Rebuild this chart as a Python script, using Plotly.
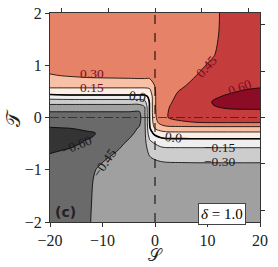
import plotly.graph_objects as go

# ---------------- data ----------------
S_values = [-20, -16, -13, -11, -8, -5, -3, -2, -1, 0, 1, 2, 3, 5, 8, 11, 14, 17, 20]
T_values = [2.0, 1.6, 1.2, 1.0, 0.8, 0.6, 0.5, 0.4, 0.3, 0.2, 0.1, 0.0,
            -0.1, -0.2, -0.3, -0.4, -0.5, -0.6, -0.8, -1.0, -1.2, -1.6, -2.0]

z_T_p2_0 = [0.38, 0.38, 0.38, 0.385, 0.39, 0.39, 0.395, 0.40, 0.40, 0.405, 0.41, 0.415, 0.42, 0.425, 0.435, 0.444, 0.458, 0.47, 0.48]
z_T_p1_6 = [0.37, 0.37, 0.37, 0.375, 0.38, 0.385, 0.39, 0.395, 0.40, 0.405, 0.41, 0.415, 0.42, 0.425, 0.435, 0.444, 0.46, 0.475, 0.485]
z_T_p1_2 = [0.36, 0.36, 0.365, 0.365, 0.37, 0.375, 0.38, 0.385, 0.39, 0.40, 0.405, 0.41, 0.415, 0.425, 0.437, 0.447, 0.47, 0.49, 0.50]
z_T_p1_0 = [0.35, 0.355, 0.36, 0.36, 0.365, 0.37, 0.37, 0.375, 0.38, 0.39, 0.40, 0.405, 0.41, 0.425, 0.44, 0.458, 0.48, 0.50, 0.51]
z_T_p0_8 = [0.29, 0.31, 0.325, 0.33, 0.335, 0.34, 0.345, 0.345, 0.345, 0.35, 0.39, 0.40, 0.40, 0.43, 0.451, 0.47, 0.50, 0.52, 0.53]
z_T_p0_6 = [0.18, 0.18, 0.18, 0.18, 0.18, 0.18, 0.18, 0.18, 0.19, 0.305, 0.39, 0.41, 0.42, 0.44, 0.48, 0.51, 0.55, 0.575, 0.59]
z_T_p0_5 = [0.09, 0.09, 0.09, 0.09, 0.09, 0.09, 0.09, 0.09, 0.11, 0.29, 0.395, 0.415, 0.43, 0.458, 0.50, 0.55, 0.585, 0.61, 0.62]
z_T_p0_4 = [-0.06, -0.04, -0.04, -0.04, -0.04, -0.04, -0.04, -0.04, 0.03, 0.285, 0.40, 0.42, 0.437, 0.47, 0.515, 0.585, 0.615, 0.635, 0.64]
z_T_p0_3 = [-0.24, -0.24, -0.24, -0.24, -0.24, -0.24, -0.24, -0.20, 0.02, 0.285, 0.40, 0.43, 0.445, 0.48, 0.525, 0.605, 0.63, 0.645, 0.65]
z_T_p0_2 = [-0.36, -0.36, -0.36, -0.36, -0.36, -0.36, -0.36, -0.31, 0.02, 0.285, 0.40, 0.435, 0.455, 0.49, 0.53, 0.595, 0.61, 0.63, 0.63]
z_T_p0_1 = [-0.46, -0.46, -0.46, -0.46, -0.46, -0.46, -0.47, -0.33, 0.02, 0.28, 0.40, 0.44, 0.46, 0.49, 0.53, 0.57, 0.58, 0.56, 0.56]
z_T_0_0 = [-0.52, -0.52, -0.51, -0.505, -0.50, -0.49, -0.50, -0.34, 0.015, 0.27, 0.39, 0.44, 0.46, 0.485, 0.52, 0.54, 0.545, 0.548, 0.53]
z_T_m0_1 = [-0.565, -0.56, -0.55, -0.54, -0.52, -0.50, -0.48, -0.34, 0.01, 0.24, 0.34, 0.40, 0.42, 0.43, 0.445, 0.448, 0.448, 0.448, 0.448]
z_T_m0_2 = [-0.605, -0.598, -0.585, -0.575, -0.54, -0.505, -0.44, -0.345, -0.01, 0.17, 0.21, 0.24, 0.25, 0.25, 0.25, 0.25, 0.25, 0.25, 0.25]
z_T_m0_3 = [-0.635, -0.625, -0.61, -0.598, -0.55, -0.49, -0.41, -0.345, -0.06, 0.04, 0.10, 0.115, 0.118, 0.12, 0.12, 0.12, 0.12, 0.12, 0.12]
z_T_m0_4 = [-0.655, -0.64, -0.605, -0.59, -0.545, -0.455, -0.39, -0.345, -0.13, -0.06, -0.02, 0.002, 0.003, 0.004, 0.005, 0.005, 0.005, 0.005, 0.005]
z_T_m0_5 = [-0.65, -0.625, -0.58, -0.565, -0.52, -0.42, -0.38, -0.345, -0.20, -0.148, -0.11, -0.09, -0.085, -0.083, -0.08, -0.08, -0.08, -0.08, -0.08]
z_T_m0_6 = [-0.625, -0.595, -0.56, -0.535, -0.485, -0.40, -0.375, -0.35, -0.25, -0.20, -0.18, -0.17, -0.17, -0.17, -0.17, -0.17, -0.17, -0.17, -0.17]
z_T_m0_8 = [-0.57, -0.555, -0.53, -0.49, -0.42, -0.385, -0.375, -0.36, -0.32, -0.298, -0.29, -0.285, -0.283, -0.282, -0.28, -0.28, -0.28, -0.28, -0.28]
z_T_m1_0 = [-0.54, -0.53, -0.51, -0.44, -0.40, -0.38, -0.38, -0.375, -0.36, -0.34, -0.34, -0.34, -0.34, -0.34, -0.34, -0.34, -0.34, -0.34, -0.34]
z_T_m1_2 = [-0.52, -0.515, -0.495, -0.42, -0.395, -0.38, -0.385, -0.385, -0.38, -0.37, -0.37, -0.37, -0.37, -0.37, -0.37, -0.37, -0.37, -0.37, -0.37]
z_T_m1_6 = [-0.51, -0.505, -0.485, -0.41, -0.39, -0.385, -0.39, -0.39, -0.39, -0.385, -0.385, -0.385, -0.385, -0.385, -0.385, -0.385, -0.385, -0.385, -0.385]
z_T_m2_0 = [-0.50, -0.50, -0.48, -0.40, -0.39, -0.39, -0.39, -0.39, -0.39, -0.39, -0.39, -0.39, -0.39, -0.39, -0.39, -0.39, -0.39, -0.39, -0.39]

level_start = -0.60
level_end = 0.60
level_step = 0.15

x_ticks = [-20, -10, 0, 10, 20]
y_ticks = [-2, -1, 0, 1, 2]

# contour labels: text, S, T, angle, sign
contour_labels = [
    ("0.30", -12.0, 0.84, 0, "pos"),
    ("0.15", -12.0, 0.565, 0, "pos"),
    ("0.0", -3.4, 0.41, 8, "neg"),
    ("0.0", 3.6, -0.39, 6, "neg"),
    ("\u22120.15", 12.2, -0.57, 0, "neg"),
    ("\u22120.30", 12.2, -0.84, 0, "neg"),
    ("0.45", 9.9, 0.97, -48, "pos"),
    ("0.60", 16.2, 0.57, -20, "pos"),
    ("\u22120.60", -15.0, -0.54, -22, "neg"),
    ("\u22120.45", -9.7, -0.88, -55, "neg"),
]

# ---------------- figure ----------------
z_rows = [z_T_p2_0, z_T_p1_6, z_T_p1_2, z_T_p1_0, z_T_p0_8, z_T_p0_6, z_T_p0_5,
          z_T_p0_4, z_T_p0_3, z_T_p0_2, z_T_p0_1, z_T_0_0, z_T_m0_1, z_T_m0_2,
          z_T_m0_3, z_T_m0_4, z_T_m0_5, z_T_m0_6, z_T_m0_8, z_T_m1_0, z_T_m1_2,
          z_T_m1_6, z_T_m2_0]
y_asc = T_values[::-1]
z_asc = z_rows[::-1]

band_colors = ['#343434', '#6a6a6a', '#a0a0a0', '#cdcdcd', '#efefef',
               '#feede3', '#f8c0a4', '#e58268', '#c43c3c', '#8c0c25']
colorscale = [[i / (len(band_colors) - 1), c] for i, c in enumerate(band_colors)]

fig = go.Figure()
fig.add_trace(go.Contour(
    x=S_values, y=y_asc, z=z_asc,
    colorscale=colorscale, showscale=False,
    contours=dict(start=level_start, end=level_end, size=level_step,
                  coloring='fill', showlines=True),
    line=dict(color='black', width=0.8, smoothing=1.0),
    hoverinfo='skip',
))
# thicker zero contour
fig.add_trace(go.Contour(
    x=S_values, y=y_asc, z=z_asc, showscale=False,
    contours=dict(start=0, end=0, size=1, coloring='none', showlines=True),
    line=dict(color='black', width=1.6, smoothing=1.0),
    hoverinfo='skip',
))
# empty trace to hold the twin (top/right) axes
fig.add_trace(go.Scatter(x=[None], y=[None], xaxis='x2', yaxis='y2',
                         showlegend=False, hoverinfo='skip'))

fig.add_vline(x=0, line=dict(color='black', dash='dash', width=1))
fig.add_hline(y=0, line=dict(color='rgba(40,40,40,0.8)', dash='dashdot', width=1))

serif = "Liberation Serif"
for text, sx, ty, ang, sign in contour_labels:
    fig.add_annotation(x=sx, y=ty, xref='x', yref='y', text=text, showarrow=False,
                       textangle=ang, borderpad=0,
                       font=dict(family=serif, size=13.5,
                                 color='#7d0a24' if sign == 'pos' else '#1a1a1a'))

fig.add_annotation(x=-17, y=-1.8, xref='x', yref='y', text='<b>(c)</b>',
                   showarrow=False, font=dict(family='DejaVu Sans', size=14, color='#222'))
fig.add_annotation(x=12.8, y=-1.84, xref='x', yref='y', text='<i>δ</i> = 1.0',
                   showarrow=False, bgcolor='white', bordercolor='#444', borderwidth=1,
                   borderpad=2, font=dict(family=serif, size=15, color='black'))

# axis titles
fig.add_annotation(x=0.5, y=-0.212, xref='paper', yref='paper', text='𝒮',
                   showarrow=False, xanchor='center', yanchor='bottom', borderpad=0,
                   font=dict(family='DejaVu Serif', size=17, color='#222'))
fig.add_annotation(x=-0.18, y=0.5, xref='paper', yref='paper', text='𝒯',
                   showarrow=False, xanchor='center', yanchor='middle', textangle=-90,
                   font=dict(family='DejaVu Serif', size=20, color='#222'))

axis_common = dict(showgrid=False, zeroline=False, ticks='outside', ticklen=4,
                   tickwidth=1, tickcolor='#333', linecolor='#333', linewidth=1,
                   automargin=False)

fig.update_layout(
    width=278, height=267,
    margin=dict(l=50, r=18, t=13, b=45),
    paper_bgcolor='white', plot_bgcolor='white',
    showlegend=False,
    xaxis=dict(range=[-20, 20], tickvals=x_ticks, showline=True, mirror=True,
               tickfont=dict(family=serif, size=16, color='#222'),
               **axis_common),
    yaxis=dict(range=[-2, 2], tickvals=y_ticks, showline=True, mirror=True,
               tickfont=dict(family=serif, size=16, color='#222'),
               **axis_common),
    xaxis2=dict(overlaying='x', side='top', range=[-22.5, 22.5], tickvals=x_ticks,
                showticklabels=False, anchor='y', **axis_common),
    yaxis2=dict(overlaying='y', side='right', range=[-2.25, 2.25], tickvals=y_ticks,
                showticklabels=False, anchor='x', **axis_common),
)

fig.write_html("out.html",
               config={'displayModeBar': False},
               post_script="document.body.style.margin='0px';"
                           "document.body.style.overflow='hidden';")
